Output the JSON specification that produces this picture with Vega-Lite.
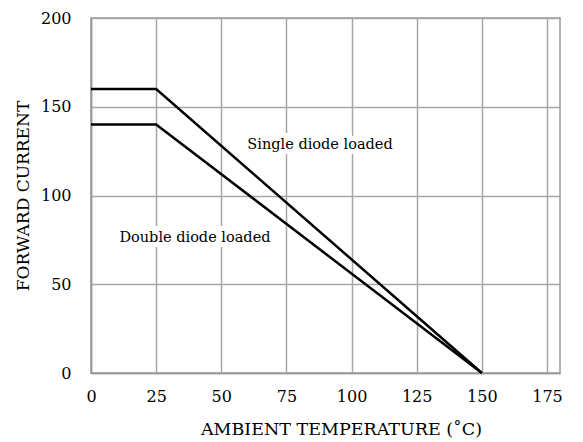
{
  "$schema": "https://vega.github.io/schema/vega-lite/v6.json",
  "width": 469,
  "height": 355,
  "autosize": {"type": "none"},
  "padding": {"left": 91, "top": 18, "right": 23, "bottom": 69},
  "background": "white",
  "config": {
    "view": {"stroke": "#999999", "strokeWidth": 1.5},
    "font": "DejaVu Serif",
    "axis": {
      "labelFont": "DejaVu Serif",
      "titleFont": "DejaVu Serif",
      "labelColor": "black",
      "titleColor": "black",
      "titleFontWeight": "normal",
      "gridColor": "#a6a6a6",
      "gridWidth": 1.5,
      "domainColor": "#999999",
      "domainWidth": 1.5,
      "ticks": false
    }
  },
  "datasets": {
    "curves": [
      {"t": 0, "i": 160, "series": "Single diode loaded"},
      {"t": 25, "i": 160, "series": "Single diode loaded"},
      {"t": 150, "i": 0, "series": "Single diode loaded"},
      {"t": 0, "i": 140, "series": "Double diode loaded"},
      {"t": 25, "i": 140, "series": "Double diode loaded"},
      {"t": 150, "i": 0, "series": "Double diode loaded"}
    ],
    "labels": [
      {"t": 87.9, "i": 128.5, "text": "Single diode loaded"},
      {"t": 39.9, "i": 76, "text": "Double diode loaded"}
    ]
  },
  "layer": [
    {
      "data": {"name": "labels"},
      "mark": {"type": "text", "fontSize": 14.5, "stroke": "white", "strokeWidth": 10, "fill": "white", "font": "DejaVu Serif"},
      "encoding": {
        "x": {"field": "t", "type": "quantitative", "scale": {"domain": [0, 175]},
          "axis": {"values": [0, 25, 50, 75, 100, 125, 150, 175], "title": "AMBIENT TEMPERATURE (˚C)", "labelFontSize": 16, "titleFontSize": 17.5, "labelPadding": 15, "titlePadding": 16, "titleX": 250, "labelFlush": false}},
        "y": {"field": "i", "type": "quantitative", "scale": {"domain": [0, 200]},
          "axis": {"values": [0, 50, 100, 150, 200], "title": "FORWARD CURRENT", "labelFontSize": 16, "titleFontSize": 17, "labelPadding": 20, "titlePadding": 8, "labelFlush": false}},
        "text": {"field": "text"}
      }
    },
    {
      "data": {"name": "labels"},
      "mark": {"type": "text", "fontSize": 14.5, "fill": "black", "font": "DejaVu Serif"},
      "encoding": {
        "x": {"field": "t", "type": "quantitative"},
        "y": {"field": "i", "type": "quantitative"},
        "text": {"field": "text"}
      }
    },
    {
      "data": {"name": "curves"},
      "mark": {"type": "line", "color": "black", "strokeWidth": 2.5},
      "encoding": {
        "x": {"field": "t", "type": "quantitative"},
        "y": {"field": "i", "type": "quantitative"},
        "detail": {"field": "series"}
      }
    }
  ]
}
